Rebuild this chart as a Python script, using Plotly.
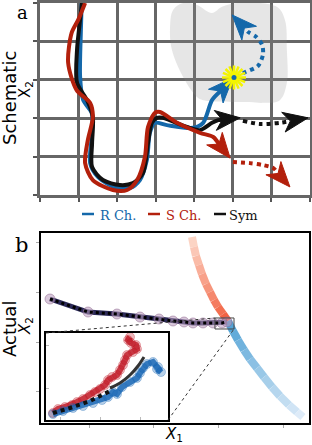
import numpy as np
import plotly.graph_objects as go

W, H = 312, 445

def PX(x):
    return x / W

def PY(y):
    return 1 - y / H

# ---------------- Panel a data (grid units) ----------------
blue_x = [1.08, 1.06, 1.04, 1.12, 1.34, 1.35, 1.30, 1.50, 1.99, 2.33, 2.59, 2.77, 2.85, 2.98, 3.29, 3.97, 4.23, 4.46, 5.00]
blue_y = [4.99, 4.30, 3.07, 2.47, 2.14, 1.62, 0.83, 0.47, 0.18, 0.18, 0.39, 0.91, 1.62, 1.88, 1.82, 1.75, 1.88, 2.47, 3.05]
blue_dot_x = [5.06, 5.32, 5.65, 5.78, 5.76, 5.60, 5.39, 4.98]
blue_dot_y = [3.10, 3.20, 3.36, 3.65, 3.91, 4.12, 4.25, 4.69]

red_x = [1.17, 0.99, 0.82, 0.73, 0.95, 1.30, 1.37, 1.24, 1.17, 1.37, 1.89, 2.26, 2.52, 2.72, 2.80, 2.98, 3.11, 3.55, 4.15, 4.49, 4.93]
red_y = [5.00, 4.56, 4.22, 3.44, 2.73, 2.40, 2.03, 1.43, 0.83, 0.39, 0.13, 0.13, 0.39, 0.99, 1.77, 2.14, 2.16, 1.88, 1.62, 1.51, 0.96]
red_dot_x = [5.00, 5.44, 5.78, 6.05, 6.48]
red_dot_y = [0.86, 0.83, 0.78, 0.70, 0.21]

sym_x = [1.09, 1.01, 0.96, 0.96, 1.22, 1.37, 1.35, 1.35, 1.63, 2.07, 2.41, 2.67, 2.80, 2.90, 3.03, 3.19, 3.81, 4.15, 4.46, 4.62, 5.19]
sym_y = [5.00, 4.30, 3.78, 2.92, 2.47, 2.03, 1.35, 0.73, 0.39, 0.26, 0.31, 0.57, 1.35, 1.88, 2.01, 2.01, 1.77, 1.69, 1.88, 1.95, 2.01]
sym_dot_x = [5.26, 5.70, 6.22, 6.95]
sym_dot_y = [1.93, 1.85, 1.88, 2.01]

blob_x = [3.45, 3.71, 4.07, 4.46, 4.72, 5.11, 6.14, 6.35, 6.40, 6.40, 6.22, 5.78, 5.44, 4.23, 4.07, 3.71, 3.42, 3.37]
blob_y = [4.82, 5.00, 4.95, 4.74, 4.90, 5.00, 4.90, 4.56, 3.78, 2.92, 2.47, 2.40, 2.42, 2.47, 2.55, 3.07, 3.78, 4.30]

star_x = [5.03]
star_y = [3.06]

legend_names = ["R Ch.", "S Ch.", "Sym"]

# ---------------- Panel b data ----------------
sgrad_x = [2.585, 2.615, 2.646, 2.692, 2.738, 2.800, 2.862, 2.923, 2.985, 3.062, 3.138]
sgrad_y = [4.117, 3.916, 3.735, 3.553, 3.372, 3.171, 3.010, 2.849, 2.708, 2.567, 2.426]
rgrad_x = [3.138, 3.215, 3.292, 3.385, 3.477, 3.585, 3.692, 3.815, 3.938, 4.077, 4.200, 4.292]
rgrad_y = [2.426, 2.225, 2.044, 1.842, 1.661, 1.480, 1.299, 1.097, 0.916, 0.735, 0.594, 0.493]

act_x = [0.40, 0.985, 1.43, 1.785, 2.077, 2.292, 2.462, 2.600, 2.754, 2.908, 3.046, 3.123]
act_y = [2.869, 2.607, 2.567, 2.506, 2.466, 2.426, 2.406, 2.386, 2.386, 2.386, 2.386, 2.406]

zoom_box_x = [2.938, 3.231]
zoom_box_y = [2.265, 2.487]

# inset data
in_red_x = [0.825, 0.95, 1.125, 1.30, 1.425, 1.575, 1.75, 1.875, 2.0, 2.125, 2.2, 2.3, 2.425, 2.5, 2.575, 2.625, 2.675, 2.825, 2.925, 2.9, 2.775, 2.7, 2.75]
in_red_y = [0.419, 0.512, 0.558, 0.605, 0.674, 0.744, 0.837, 0.907, 0.977, 1.070, 1.186, 1.256, 1.302, 1.419, 1.535, 1.651, 1.767, 1.837, 1.907, 2.0, 2.047, 2.116, 2.186]
in_blue_x = [0.825, 1.075, 1.325, 1.575, 1.825, 2.05, 2.2, 2.325, 2.425, 2.55, 2.75, 2.925, 3.0, 3.075, 3.175, 3.325, 3.45, 3.525, 3.425]
in_blue_y = [0.395, 0.465, 0.535, 0.581, 0.651, 0.721, 0.791, 0.907, 0.860, 1.023, 1.140, 1.233, 1.349, 1.465, 1.558, 1.605, 1.488, 1.372, 1.442]
in_sym_x = [2.25, 2.5, 2.75, 2.95, 3.1]
in_sym_y = [1.0, 1.116, 1.302, 1.512, 1.721]
in_dot_x = [0.825, 1.25, 1.75, 2.3]
in_dot_y = [0.419, 0.535, 0.698, 0.953]

BLUE = "#1468aa"
RED = "#b3200c"
BLACK = "#111111"

fig = go.Figure()

# ---- Panel a ----
SX, SY = 270 / 7, 192 / 5  # px per unit


def head(xs, ys, L=25, Wd=10, notch=7):
    x1, y1 = xs[-1], ys[-1]
    x0, y0 = xs[-2], ys[-2]
    dx, dy = (x1 - x0) * SX, (y1 - y0) * SY
    n = np.hypot(dx, dy)
    ux, uy = dx / n, dy / n
    nx, ny = -uy, ux
    pts = [
        (0, 0),
        (-L * ux + Wd * nx, -L * uy + Wd * ny),
        (-(L - notch) * ux, -(L - notch) * uy),
        (-L * ux - Wd * nx, -L * uy - Wd * ny),
        (0, 0),
    ]
    hx = [x1 + p[0] / SX for p in pts]
    hy = [y1 + p[1] / SY for p in pts]
    return hx, hy, (hx[2], hy[2])


fig.add_trace(go.Scatter(x=blob_x + blob_x[:1], y=blob_y + blob_y[:1], mode="lines",
                         line=dict(shape="spline", smoothing=1.0, width=0),
                         fill="toself", fillcolor="rgba(140,140,140,0.22)",
                         hoverinfo="skip", showlegend=False, xaxis="x", yaxis="y"))

for (px_, py_, dx_, dy_, col) in [
    (blue_x, blue_y, blue_dot_x, blue_dot_y, BLUE),
    (sym_x, sym_y, sym_dot_x, sym_dot_y, BLACK),
    (red_x, red_y, red_dot_x, red_dot_y, RED),
]:
    hx, hy, nb = head(px_, py_)
    fig.add_trace(go.Scatter(x=px_[:-1] + [nb[0]], y=py_[:-1] + [nb[1]], mode="lines",
                             line=dict(color=col, width=4, shape="spline", smoothing=0.8),
                             hoverinfo="skip", showlegend=False, xaxis="x", yaxis="y"))
    fig.add_trace(go.Scatter(x=hx, y=hy, mode="lines", fill="toself", fillcolor=col,
                             line=dict(color=col, width=1), hoverinfo="skip", showlegend=False,
                             xaxis="x", yaxis="y"))
    hx2, hy2, nb2 = head(dx_, dy_)
    fig.add_trace(go.Scatter(x=dx_[:-1] + [nb2[0]], y=dy_[:-1] + [nb2[1]], mode="lines",
                             line=dict(color=col, width=4, dash="dot", shape="spline", smoothing=0.8),
                             hoverinfo="skip", showlegend=False, xaxis="x", yaxis="y"))
    fig.add_trace(go.Scatter(x=hx2, y=hy2, mode="lines", fill="toself", fillcolor=col,
                             line=dict(color=col, width=1), hoverinfo="skip", showlegend=False,
                             xaxis="x", yaxis="y"))

for ang in [0, 22.5]:
    fig.add_trace(go.Scatter(x=star_x, y=star_y, mode="markers",
                             marker=dict(symbol="asterisk-open", size=20, angle=ang, color="#f4f400",
                                         line=dict(color="#f4f400", width=2.5)),
                             hoverinfo="skip", showlegend=False, xaxis="x", yaxis="y"))
fig.add_trace(go.Scatter(x=star_x, y=star_y, mode="markers",
                         marker=dict(symbol="circle", size=5, color=BLUE),
                         hoverinfo="skip", showlegend=False, xaxis="x", yaxis="y"))

# ---- Panel b ----
def lerp(c0, c1, t):
    return "rgb(%d,%d,%d)" % tuple(int(round(a + (b - a) * t)) for a, b in zip(c0, c1))

n = len(sgrad_x) - 1
for i in range(n):
    t = i / max(n - 1, 1)
    fig.add_trace(go.Scatter(x=sgrad_x[i:i + 2], y=sgrad_y[i:i + 2], mode="lines",
                             line=dict(color=lerp((252, 212, 196), (242, 98, 66), t), width=8),
                             hoverinfo="skip", showlegend=False, xaxis="x2", yaxis="y2"))
n = len(rgrad_x) - 1
for i in range(n):
    t = i / max(n - 1, 1)
    fig.add_trace(go.Scatter(x=rgrad_x[i:i + 2], y=rgrad_y[i:i + 2], mode="lines",
                             line=dict(color=lerp((84, 164, 214), (222, 235, 248), t), width=8),
                             hoverinfo="skip", showlegend=False, xaxis="x2", yaxis="y2"))

fig.add_trace(go.Scatter(x=act_x, y=act_y, mode="lines+markers",
                         line=dict(color="#2c2a58", width=5),
                         marker=dict(size=10, color="rgba(185,155,190,0.55)",
                                     line=dict(color="rgba(140,100,140,0.5)", width=1)),
                         hoverinfo="skip", showlegend=False, xaxis="x2", yaxis="y2"))
fig.add_trace(go.Scatter(x=act_x, y=act_y, mode="lines",
                         line=dict(color="#000000", width=3, dash="dot"),
                         hoverinfo="skip", showlegend=False, xaxis="x2", yaxis="y2"))

# ---- Inset ----
for xs, ys, col, mcol in [(in_red_x, in_red_y, "rgba(192,24,36,0.8)", "rgba(192,24,36,0.3)"),
                          (in_blue_x, in_blue_y, "rgba(20,100,180,0.8)", "rgba(20,100,180,0.3)")]:
    fig.add_trace(go.Scatter(x=xs, y=ys, mode="lines+markers",
                             line=dict(color=col, width=6),
                             marker=dict(size=9, color=mcol, line=dict(color=mcol, width=1)),
                             hoverinfo="skip", showlegend=False, xaxis="x3", yaxis="y3"))
fig.add_trace(go.Scatter(x=in_sym_x, y=in_sym_y, mode="lines",
                         line=dict(color="#333333", width=3, shape="spline"),
                         hoverinfo="skip", showlegend=False, xaxis="x3", yaxis="y3"))
fig.add_trace(go.Scatter(x=in_dot_x, y=in_dot_y, mode="lines",
                         line=dict(color="#111111", width=4, dash="dot"),
                         hoverinfo="skip", showlegend=False, xaxis="x3", yaxis="y3"))

shapes = []
# zoom box
shapes.append(dict(type="rect", xref="x2", yref="y2", x0=zoom_box_x[0], x1=zoom_box_x[1],
                   y0=zoom_box_y[0], y1=zoom_box_y[1], line=dict(color="#444", width=1)))
# connectors (paper coords)
def b2px(xd, yd):
    return 24 + xd * 65, 441.5 - yd * 49.67

bx0, by0 = b2px(zoom_box_x[0], zoom_box_y[1])
bx1, by1 = b2px(zoom_box_x[1], zoom_box_y[0])
shapes.append(dict(type="line", xref="paper", yref="paper", x0=PX(46), y0=PY(333),
                   x1=PX(bx0), y1=PY(by0), line=dict(color="#333", width=1, dash="dot")))
shapes.append(dict(type="line", xref="paper", yref="paper", x0=PX(168), y0=PY(420),
                   x1=PX(bx1), y1=PY(by1), line=dict(color="#333", width=1, dash="dot")))

# legend lines
leg_cols = [BLUE, RED, BLACK]
leg_line_x = [(82, 94), (148, 160), (214, 226)]
leg_text_x = [98, 164, 227]
annotations = []
for (a, b), tx, col, name in zip(leg_line_x, leg_text_x, leg_cols, legend_names):
    shapes.append(dict(type="line", xref="paper", yref="paper", x0=PX(a), x1=PX(b),
                       y0=PY(214), y1=PY(214), line=dict(color=col, width=2.5)))
    annotations.append(dict(x=PX(tx), y=PY(215), xref="paper", yref="paper", text=name,
                            showarrow=False, xanchor="left", yanchor="middle",
                            font=dict(family="DejaVu Serif", size=13, color=col)))

def lab(x, y, text, size, family="DejaVu Sans", angle=0, yanchor="middle"):
    return dict(x=PX(x), y=PY(y), text=text, showarrow=False, xref="paper", yref="paper",
                xanchor="center", yanchor=yanchor, textangle=angle,
                font=dict(family=family, size=size, color="black"))

annotations += [
    lab(22, 0, "a", 18, "DejaVu Serif", yanchor="top"),
    lab(21, 245, "b", 21, "DejaVu Serif"),
    lab(9, 98, "Schematic", 18, angle=-90),
    lab(25, 90, "X<sub>2</sub>", 15, angle=-90),
    lab(9, 329, "Actual", 18, angle=-90),
    lab(25, 326, "<i>X</i><sub>2</sub>", 15, angle=-90),
    lab(174, 434, "<i>X</i><sub>1</sub>", 15),
]

GRID = "#666666"
fig.update_layout(
    width=W, height=H, margin=dict(l=0, r=0, t=0, b=0), autosize=False,
    paper_bgcolor="white", plot_bgcolor="white", showlegend=False,
    shapes=shapes, annotations=annotations,
    xaxis=dict(domain=[PX(40), PX(310)], range=[0, 7], tickvals=list(range(8)),
               showticklabels=False, ticks="outside", ticklen=4, tickwidth=1.5, tickcolor="#555",
               showgrid=True, gridcolor=GRID, gridwidth=2.5, zeroline=False,
               showline=True, linecolor=GRID, linewidth=2.5, mirror=True, anchor="y"),
    yaxis=dict(domain=[PY(195), PY(3)], range=[0, 5], tickvals=list(range(6)),
               showticklabels=False, ticks="outside", ticklen=4, tickwidth=1.5, tickcolor="#555",
               showgrid=True, gridcolor=GRID, gridwidth=2.5, zeroline=False,
               showline=True, linecolor=GRID, linewidth=2.5, mirror=True, anchor="x"),
    xaxis2=dict(domain=[PX(41), PX(309)], range=[0.2615, 4.385], tickvals=[1, 2, 3, 4],
                showticklabels=False, ticks="outside", ticklen=3, tickcolor="#aaa",
                showgrid=False, zeroline=False, showline=True, linecolor="black", linewidth=2,
                mirror=True, anchor="y2"),
    yaxis2=dict(domain=[PY(423), PY(233)], range=[0.372, 4.198], tickvals=[1, 2, 3, 4],
                showticklabels=False, ticks="outside", ticklen=3, tickcolor="#aaa",
                showgrid=False, zeroline=False, showline=True, linecolor="black", linewidth=2,
                mirror=True, anchor="x2"),
    xaxis3=dict(domain=[PX(46), PX(168)], range=[0.65, 3.7], tickvals=[1, 2, 3],
                showticklabels=False, ticks="inside", ticklen=3, tickcolor="#bbb",
                showgrid=False, zeroline=False, showline=True, linecolor="black", linewidth=2,
                mirror=True, anchor="y3"),
    yaxis3=dict(domain=[PY(420), PY(333)], range=[0.256, 2.279], tickvals=[1, 2],
                showticklabels=False, ticks="inside", ticklen=3, tickcolor="#bbb",
                showgrid=False, zeroline=False, showline=True, linecolor="black", linewidth=2,
                mirror=True, anchor="x3"),
)

fig.write_html("out.html", config={"displayModeBar": False},
               post_script="document.body.style.margin='0px';document.body.style.padding='0px';")
